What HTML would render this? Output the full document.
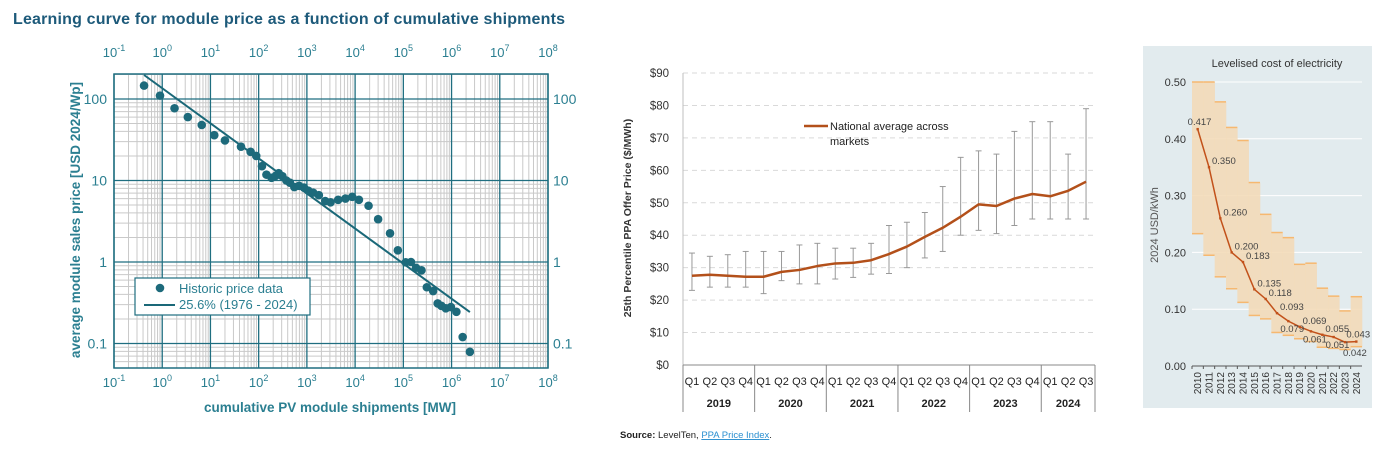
<!DOCTYPE html>
<html><head><meta charset="utf-8">
<style>
html,body{margin:0;padding:0;background:#fff;}
svg{display:block;font-family:"Liberation Sans",sans-serif;}
</style></head>
<body>
<svg id="root" width="1397" height="451" viewBox="0 0 1397 451" xmlns="http://www.w3.org/2000/svg">
<text x="13" y="24" font-size="16" font-weight="bold" fill="#1d5a7a" textLength="552">Learning curve for module price as a function of cumulative shipments</text>
<g id="c1"></g>
<g id="c2"></g>
<rect x="1143" y="46" width="229" height="362" fill="#e2ebee"/>
<g id="c3"></g>
</svg>
<script>
// ---------- Chart 1 data ----------
const shipX = [0.42,0.9,1.8,3.4,6.6,12,20,43,68,89,117,145,185,225,260,310,375,445,550,690,870,1070,1350,1770,2400,3100,4450,6300,8700,12000,19000,30000,53000,77000,112000,144000,183000,238000,307000,415000,516000,614000,760000,970000,1260000,1700000,2400000];
const priceY = [146,110,77,60,48,36,31,26,22.5,20,15,11.8,10.8,11.4,12.3,11.3,10,9.4,8.3,8.6,8.2,7.5,7.1,6.6,5.6,5.4,5.8,6.0,6.3,5.8,4.9,3.35,2.25,1.39,0.99,1.0,0.85,0.79,0.49,0.44,0.31,0.29,0.27,0.28,0.245,0.12,0.079];
const fitX = [0.42,2400000];
const fitY = [197,0.243];
const xDecades = [-1,0,1,2,3,4,5,6,7,8];
const yTicks = [0.1,1,10,100];

// ---------- Chart 2 data ----------
const quarters = ["Q1","Q2","Q3","Q4","Q1","Q2","Q3","Q4","Q1","Q2","Q3","Q4","Q1","Q2","Q3","Q4","Q1","Q2","Q3","Q4","Q1","Q2","Q3"];
const years = ["2019","2020","2021","2022","2023","2024"];
const yearSpan = [4,4,4,4,4,3];
const ppaMean = [27.5,27.8,27.5,27.2,27.2,28.7,29.3,30.5,31.3,31.5,32.3,34.2,36.5,39.5,42.3,45.7,49.5,49,51.3,52.7,52,53.7,56.5];
const ppaLow = [23,24,24,24,22,26,25,25,26.5,27,28,28.2,30,33,35,40,41.5,40.5,43,45,45,45,45];
const ppaHigh = [34.5,33.5,34,35,35,35,37,37.5,36,36,37.5,43,44,47,55,64,66,65,72,75,75,65,79];
const ppaTicks = [0,10,20,30,40,50,60,70,80,90];

// ---------- Chart 3 data ----------
const lcoeYears = ["2010","2011","2012","2013","2014","2015","2016","2017","2018","2019","2020","2021","2022","2023","2024"];
const lcoeVal = [0.417,0.350,0.260,0.200,0.183,0.135,0.118,0.093,0.079,0.069,0.061,0.055,0.051,0.042,0.043];
const lcoeHigh = [0.50,0.50,0.465,0.42,0.397,0.323,0.267,0.235,0.226,0.179,0.181,0.137,0.123,0.097,0.122];
const lcoeLow = [0.233,0.195,0.157,0.136,0.112,0.089,0.083,0.059,0.054,0.048,0.043,0.033,0.031,0.029,0.034];
const lcoeTicks = [0,0.1,0.2,0.3,0.4,0.5];

const NS="http://www.w3.org/2000/svg";
function mk(parent,tag,attrs,text){const e=document.createElementNS(NS,tag);for(const k in attrs)e.setAttribute(k,attrs[k]);if(text!==undefined)e.textContent=text;parent.appendChild(e);return e;}

// ===== Chart 1 =====
(function(){
const g=document.getElementById('c1');
const L=114,R=548,T=74,B=368;
const X=v=>L+(Math.log10(v)+1)*(R-L)/9;
const Y=v=>99-(Math.log10(v)-2)*81.5;
const teal="#1f6e80";
// minor grid
for(let d=-1;d<8;d++){for(let m=2;m<10;m++){const x=X(m*Math.pow(10,d));const l=mk(g,'line',{x1:x,x2:x,y1:T,y2:B,stroke:'#c9c9c9','stroke-width':1});}}
for(let d=-2;d<3;d++){for(let m=1;m<10;m++){const v=m*Math.pow(10,d);const y=Y(v);if(y<T||y>B)continue;const l=mk(g,'line',{x1:L,x2:R,y1:y,y2:y,stroke:m===1?teal:'#c9c9c9','stroke-width':m===1?1.3:1});}}
xDecades.forEach(d=>{const x=X(Math.pow(10,d));const l=mk(g,'line',{x1:x,x2:x,y1:T,y2:B,stroke:teal,'stroke-width':1.3});
 [57,387].forEach(yy=>{const t=mk(g,'text',{x:x,y:yy,'font-size':13,fill:'#2b7f91','text-anchor':'middle'});mk(t,'tspan',{},'10');mk(t,'tspan',{'font-size':9,dy:-6},String(d));});});
const fr=mk(g,'rect',{x:L,y:T,width:R-L,height:B-T,fill:'none',stroke:teal,'stroke-width':1.5});
yTicks.forEach(v=>{const y=Y(v)+5;const a=mk(g,'text',{x:107,y:y,'font-size':14,fill:'#2b7f91','text-anchor':'end'},String(v));
 const b=mk(g,'text',{x:553,y:y,'font-size':14,fill:'#2b7f91'},String(v));});
const fl=mk(g,'line',{x1:X(fitX[0]),y1:Y(fitY[0]),x2:X(fitX[1]),y2:Y(fitY[1]),stroke:'#1a6878','stroke-width':2});
shipX.forEach((v,i)=>{const c=mk(g,'circle',{cx:X(v),cy:Y(priceY[i]),r:4.3,fill:'#1d6a7b'});});
const lg=mk(g,'g',{});
mk(lg,'rect',{x:135,y:278,width:175,height:37,fill:'#fff',stroke:teal,'stroke-width':1.2});
const c=mk(lg,'circle',{cx:160,cy:288,r:4.3,fill:'#1d6a7b'});
const t1=mk(lg,'text',{x:179,y:293,'font-size':13,fill:'#2b7f91'},'Historic price data');
mk(lg,'line',{x1:144,x2:175,y1:305,y2:305,stroke:'#1a6878','stroke-width':2});
const t2=mk(lg,'text',{x:179,y:309,'font-size':13,fill:'#2b7f91'},'25.6% (1976 - 2024)');
const xt=mk(g,'text',{x:330,y:412,'font-size':13.5,'font-weight':'bold',fill:'#2b7f91','text-anchor':'middle'},'cumulative PV module shipments [MW]');
const yt=mk(g,'text',{x:0,y:0,'font-size':13.5,'font-weight':'bold',fill:'#2b7f91','text-anchor':'middle',transform:'translate(80,220) rotate(-90)'},'average module sales price [USD 2024/Wp]');
})();

// ===== Chart 2 =====
(function(){
const g=document.getElementById('c2');
const L=683,R=1095,T=73,B=365;
const bw=(R-L)/quarters.length;
const X=i=>L+bw*(i+0.5);
const Y=v=>B-v/90*(B-T);
ppaTicks.forEach(v=>{const y=Y(v);if(v>0){const l=mk(g,'line',{x1:L,x2:R,y1:y,y2:y,stroke:'#d9d9d9','stroke-dasharray':'5,4'});}
 const t=mk(g,'text',{x:669,y:y+4,'font-size':11.5,fill:'#333','text-anchor':'end'},'$'+v);});
const ax=mk(g,'line',{x1:L,x2:L,y1:T,y2:B,stroke:'#bfbfbf'});
const xb=mk(g,'line',{x1:L,x2:R,y1:B,y2:B,stroke:'#888'});
quarters.forEach((q,i)=>{const t=mk(g,'text',{x:X(i),y:385,'font-size':11,fill:'#222','text-anchor':'middle'},q);});
let idx=0;
mk(g,'line',{x1:L,x2:L,y1:B,y2:412,stroke:'#888'});
years.forEach((yr,k)=>{const s=idx;idx+=yearSpan[k];const x0=L+bw*s,x1=L+bw*idx;
 const sep=mk(g,'line',{x1:x1,x2:x1,y1:B,y2:412,stroke:'#888'});
 const t=mk(g,'text',{x:(x0+x1)/2,y:407,'font-size':11,'font-weight':'bold',fill:'#222','text-anchor':'middle'},yr);});
ppaMean.forEach((v,i)=>{const x=X(i);const eg=mk(g,'g',{stroke:'#999','stroke-width':1});
 mk(eg,'line',{x1:x,x2:x,y1:Y(ppaLow[i]),y2:Y(ppaHigh[i])});mk(eg,'line',{x1:x-3,x2:x+3,y1:Y(ppaLow[i]),y2:Y(ppaLow[i])});mk(eg,'line',{x1:x-3,x2:x+3,y1:Y(ppaHigh[i]),y2:Y(ppaHigh[i])});});
const p=mk(g,'polyline',{points:ppaMean.map((v,i)=>X(i)+','+Y(v)).join(' '),fill:'none',stroke:'#b3501a','stroke-width':2.5,'stroke-linejoin':'round'});
const lg=mk(g,'g',{});
mk(lg,'line',{x1:804,x2:828,y1:126,y2:126,stroke:'#b3501a','stroke-width':2.5});
mk(lg,'text',{x:830,y:130,'font-size':11,fill:'#222'},'National average across');
mk(lg,'text',{x:830,y:145,'font-size':11,fill:'#222'},'markets');
const yt=mk(g,'text',{x:0,y:0,'font-size':10.5,'font-weight':'bold',fill:'#333','text-anchor':'middle',transform:'translate(631,218) rotate(-90)'},'25th Percentile PPA Offer Price ($/MWh)');
const src=mk(g,'text',{x:620,y:438,'font-size':9.5,fill:'#222'});
mk(src,'tspan',{'font-weight':'bold'},'Source:');mk(src,'tspan',{},' LevelTen, ');
const a=mk(src,'tspan',{fill:'#2a8fd0','text-decoration':'underline'},'PPA Price Index');
mk(src,'tspan',{},'.');
})();

// ===== Chart 3 =====
(function(){
const g=document.getElementById('c3');
const L=1192,R=1362,T=82,B=366;
const bw=(R-L)/lcoeYears.length;
const X=i=>L+bw*(i+0.5);
const Y=v=>B-v/0.5*(B-T);
lcoeTicks.forEach(v=>{const y=Y(v);const l=mk(g,'line',{x1:L,x2:R,y1:y,y2:y,stroke:'#fff','stroke-width':1});
 const t=mk(g,'text',{x:1186,y:y+4,'font-size':11,fill:'#333','text-anchor':'end'},v.toFixed(2));});
lcoeYears.forEach((yr,i)=>{const x0=L+bw*i;const r=mk(g,'rect',{x:x0,y:Y(lcoeHigh[i]),width:bw+0.3,height:Y(lcoeLow[i])-Y(lcoeHigh[i]),fill:'#f3d9b5','fill-opacity':0.85});
 mk(g,'line',{x1:x0,x2:x0+bw,y1:Y(lcoeHigh[i]),y2:Y(lcoeHigh[i]),stroke:'#f6b870','stroke-width':1.5});
 mk(g,'line',{x1:x0,x2:x0+bw,y1:Y(lcoeLow[i]),y2:Y(lcoeLow[i]),stroke:'#f6b870','stroke-width':1.5});
 const t=mk(g,'text',{x:0,y:0,'font-size':10,fill:'#333','text-anchor':'end',transform:`translate(${X(i)+3.5},${372}) rotate(-90)`},yr);
 mk(g,'line',{x1:x0,x2:x0,y1:B,y2:B+3,stroke:'#555'});});
const ax=mk(g,'line',{x1:L,x2:R,y1:B,y2:B,stroke:'#555'});
const p=mk(g,'polyline',{points:lcoeVal.map((v,i)=>X(i)+','+Y(v)).join(' '),fill:'none',stroke:'#c2511a','stroke-width':1.5});
lcoeVal.forEach((v,i)=>{const c=mk(g,'rect',{x:X(i)-1.2,y:Y(v)-1.2,width:2.4,height:2.4,fill:'#c2511a'});
 const below=(i===8||i===10||i===12||i===13);
 let tx=X(i)+3,ty=Y(v)-3;
 if(i===0){tx=X(i)-10;ty=Y(v)-4;}
 if(below){tx=X(i)-8;ty=Y(v)+11;}
 if(i===14){tx=X(i)-10;ty=Y(v)-4;}
 if(i===13){tx=X(i)-2;ty=Y(v)+14;}
 const t=mk(g,'text',{x:tx,y:ty,'font-size':9.5,fill:'#444'},v.toFixed(3));});
const tt=mk(g,'text',{x:1277,y:67,'font-size':11,fill:'#333','text-anchor':'middle'},'Levelised cost of electricity');
const yt=mk(g,'text',{x:0,y:0,'font-size':11,fill:'#555','text-anchor':'middle',transform:'translate(1158,225) rotate(-90)'},'2024 USD/kWh');
})();
</script>
</body></html>
